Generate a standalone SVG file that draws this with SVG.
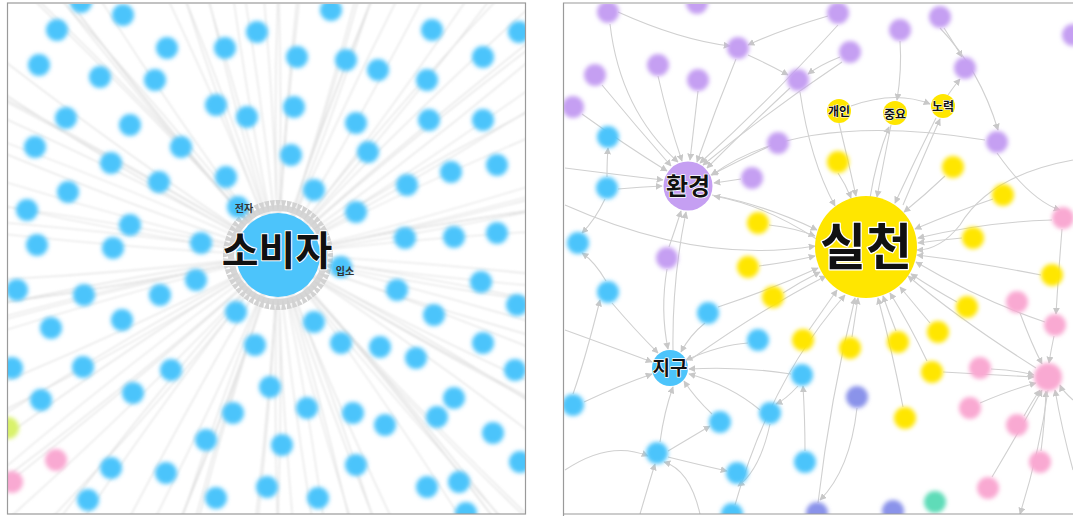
<svg xmlns="http://www.w3.org/2000/svg" xmlns:xlink="http://www.w3.org/1999/xlink" width="1073" height="516" viewBox="0 0 1073 516">
<style>
.ray{fill:none;stroke:#d4d4d4;stroke-width:1.1;opacity:.7}
.e{fill:none;stroke:#d0d0d0;stroke-width:1.1}
.b{fill:#4cc4fb}.y{fill:#ffe600}.p{fill:#c59ff2}.k{fill:#f9a9d2}.i{fill:#8a93ea}.t{fill:#5fdcb8}.g{fill:#d9f26a}
.sm circle{filter:url(#bl)}
.lab{font-family:"Noto Sans CJK KR","Noto Sans",sans-serif;font-weight:bold;fill:#111;text-anchor:middle;paint-order:stroke;stroke:#fff;stroke-linejoin:round}
.frame{fill:none;stroke:#9a9a9a;stroke-width:1.2}
</style>
<defs>
<filter id="bl" x="-50%" y="-50%" width="200%" height="200%"><feGaussianBlur stdDeviation="2"/></filter>
<filter id="eb" x="-10%" y="-10%" width="120%" height="120%"><feGaussianBlur stdDeviation="0.9"/></filter>
<filter id="eb2" x="-10%" y="-10%" width="120%" height="120%"><feGaussianBlur stdDeviation="0.4"/></filter>
<clipPath id="cl"><rect x="8" y="4" width="517" height="510"/></clipPath>
<clipPath id="cr"><rect x="564" y="4" width="509" height="510"/></clipPath>
<marker id="a" viewBox="0 0 10 10" refX="9" refY="5" markerUnits="userSpaceOnUse" markerWidth="7" markerHeight="7" orient="auto"><path d="M0,0L10,5L0,10z" fill="#c8c8c8"/></marker>
<path id="r1" d="M0,0 Q200,-25 420,-30"/>
<path id="r2" d="M0,0 Q200,25 420,30"/>
<path id="r3" d="M0,0 Q220,-8 420,10"/>
<path id="r4" d="M0,0 Q180,45 420,80"/>
<path id="r5" d="M0,0 Q150,70 400,160"/>
<path id="sp" d="M0,-44 L-2.6,-55 L2.6,-55Z"/>
</defs>
<rect width="1073" height="516" fill="#fff"/>

<!-- LEFT PANEL -->
<g clip-path="url(#cl)">
<g id="edges-left" filter="url(#eb)">
<g class="ray" transform="translate(278,255)">
<use href="#r1" transform="rotate(0)"/><use href="#r2" transform="rotate(5)"/><use href="#r3" transform="rotate(10)"/><use href="#r4" transform="rotate(15)"/>
<use href="#r1" transform="rotate(20)"/><use href="#r2" transform="rotate(25)"/><use href="#r3" transform="rotate(30)"/><use href="#r4" transform="rotate(35)"/>
<use href="#r1" transform="rotate(40)"/><use href="#r2" transform="rotate(45)"/><use href="#r3" transform="rotate(50)"/><use href="#r4" transform="rotate(55)"/>
<use href="#r1" transform="rotate(60)"/><use href="#r2" transform="rotate(65)"/><use href="#r3" transform="rotate(70)"/><use href="#r4" transform="rotate(75)"/>
<use href="#r1" transform="rotate(80)"/><use href="#r2" transform="rotate(85)"/><use href="#r3" transform="rotate(90)"/><use href="#r4" transform="rotate(95)"/>
<use href="#r1" transform="rotate(100)"/><use href="#r2" transform="rotate(105)"/><use href="#r3" transform="rotate(110)"/><use href="#r4" transform="rotate(115)"/>
<use href="#r1" transform="rotate(120)"/><use href="#r2" transform="rotate(125)"/><use href="#r3" transform="rotate(130)"/><use href="#r4" transform="rotate(135)"/>
<use href="#r1" transform="rotate(140)"/><use href="#r2" transform="rotate(145)"/><use href="#r3" transform="rotate(150)"/><use href="#r4" transform="rotate(155)"/>
<use href="#r1" transform="rotate(160)"/><use href="#r2" transform="rotate(165)"/><use href="#r3" transform="rotate(170)"/><use href="#r4" transform="rotate(175)"/>
<use href="#r1" transform="rotate(180)"/><use href="#r2" transform="rotate(185)"/><use href="#r3" transform="rotate(190)"/><use href="#r4" transform="rotate(195)"/>
<use href="#r1" transform="rotate(200)"/><use href="#r2" transform="rotate(205)"/><use href="#r3" transform="rotate(210)"/><use href="#r4" transform="rotate(215)"/>
<use href="#r1" transform="rotate(220)"/><use href="#r2" transform="rotate(225)"/><use href="#r3" transform="rotate(230)"/><use href="#r4" transform="rotate(235)"/>
<use href="#r1" transform="rotate(240)"/><use href="#r2" transform="rotate(245)"/><use href="#r3" transform="rotate(250)"/><use href="#r4" transform="rotate(255)"/>
<use href="#r1" transform="rotate(260)"/><use href="#r2" transform="rotate(265)"/><use href="#r3" transform="rotate(270)"/><use href="#r4" transform="rotate(275)"/>
<use href="#r1" transform="rotate(280)"/><use href="#r2" transform="rotate(285)"/><use href="#r3" transform="rotate(290)"/><use href="#r4" transform="rotate(295)"/>
<use href="#r1" transform="rotate(300)"/><use href="#r2" transform="rotate(305)"/><use href="#r3" transform="rotate(310)"/><use href="#r4" transform="rotate(315)"/>
<use href="#r1" transform="rotate(320)"/><use href="#r2" transform="rotate(325)"/><use href="#r3" transform="rotate(330)"/><use href="#r4" transform="rotate(335)"/>
<use href="#r1" transform="rotate(340)"/><use href="#r2" transform="rotate(345)"/><use href="#r3" transform="rotate(350)"/><use href="#r4" transform="rotate(355)"/>
<use href="#r4" transform="rotate(2) scale(1,-1)"/><use href="#r1" transform="rotate(12.5) scale(1,-1)"/><use href="#r4" transform="rotate(32) scale(1,-1)"/><use href="#r3" transform="rotate(47.5) scale(1,-1)"/>
<use href="#r4" transform="rotate(62) scale(1,-1)"/><use href="#r1" transform="rotate(77.5) scale(1,-1)"/><use href="#r4" transform="rotate(92) scale(1,-1)"/><use href="#r3" transform="rotate(107.5) scale(1,-1)"/>
<use href="#r4" transform="rotate(122) scale(1,-1)"/><use href="#r1" transform="rotate(137.5) scale(1,-1)"/><use href="#r4" transform="rotate(152) scale(1,-1)"/><use href="#r3" transform="rotate(167.5) scale(1,-1)"/>
<use href="#r4" transform="rotate(182) scale(1,-1)"/><use href="#r1" transform="rotate(197.5) scale(1,-1)"/><use href="#r4" transform="rotate(212) scale(1,-1)"/><use href="#r3" transform="rotate(227.5) scale(1,-1)"/>
<use href="#r4" transform="rotate(242) scale(1,-1)"/><use href="#r1" transform="rotate(257.5) scale(1,-1)"/><use href="#r4" transform="rotate(272) scale(1,-1)"/><use href="#r3" transform="rotate(287.5) scale(1,-1)"/>
<use href="#r4" transform="rotate(302) scale(1,-1)"/><use href="#r1" transform="rotate(317.5) scale(1,-1)"/><use href="#r4" transform="rotate(332) scale(1,-1)"/><use href="#r3" transform="rotate(347.5) scale(1,-1)"/>
<use href="#r5" transform="rotate(7)"/><use href="#r5" transform="rotate(27) scale(1,-1)"/><use href="#r5" transform="rotate(52)"/><use href="#r5" transform="rotate(72) scale(1,-1)"/>
<use href="#r5" transform="rotate(97)"/><use href="#r5" transform="rotate(117) scale(1,-1)"/><use href="#r5" transform="rotate(142)"/><use href="#r5" transform="rotate(162) scale(1,-1)"/>
<use href="#r5" transform="rotate(187)"/><use href="#r5" transform="rotate(207) scale(1,-1)"/><use href="#r5" transform="rotate(232)"/><use href="#r5" transform="rotate(252) scale(1,-1)"/>
<use href="#r5" transform="rotate(277)"/><use href="#r5" transform="rotate(297) scale(1,-1)"/><use href="#r5" transform="rotate(322)"/><use href="#r5" transform="rotate(342) scale(1,-1)"/>
</g>
</g>
<g id="ring" transform="translate(278,255)" fill="#d2d2d2" filter="url(#eb2)">
<circle r="47" fill="none" stroke="#d6d6d6" stroke-width="6"/>
<use href="#sp" transform="rotate(0)"/><use href="#sp" transform="rotate(6)"/><use href="#sp" transform="rotate(12)"/><use href="#sp" transform="rotate(18)"/><use href="#sp" transform="rotate(24)"/><use href="#sp" transform="rotate(30)"/>
<use href="#sp" transform="rotate(36)"/><use href="#sp" transform="rotate(42)"/><use href="#sp" transform="rotate(48)"/><use href="#sp" transform="rotate(54)"/><use href="#sp" transform="rotate(60)"/><use href="#sp" transform="rotate(66)"/>
<use href="#sp" transform="rotate(72)"/><use href="#sp" transform="rotate(78)"/><use href="#sp" transform="rotate(84)"/><use href="#sp" transform="rotate(90)"/><use href="#sp" transform="rotate(96)"/><use href="#sp" transform="rotate(102)"/>
<use href="#sp" transform="rotate(108)"/><use href="#sp" transform="rotate(114)"/><use href="#sp" transform="rotate(120)"/><use href="#sp" transform="rotate(126)"/><use href="#sp" transform="rotate(132)"/><use href="#sp" transform="rotate(138)"/>
<use href="#sp" transform="rotate(144)"/><use href="#sp" transform="rotate(150)"/><use href="#sp" transform="rotate(156)"/><use href="#sp" transform="rotate(162)"/><use href="#sp" transform="rotate(168)"/><use href="#sp" transform="rotate(174)"/>
<use href="#sp" transform="rotate(180)"/><use href="#sp" transform="rotate(186)"/><use href="#sp" transform="rotate(192)"/><use href="#sp" transform="rotate(198)"/><use href="#sp" transform="rotate(204)"/><use href="#sp" transform="rotate(210)"/>
<use href="#sp" transform="rotate(216)"/><use href="#sp" transform="rotate(222)"/><use href="#sp" transform="rotate(228)"/><use href="#sp" transform="rotate(234)"/><use href="#sp" transform="rotate(240)"/><use href="#sp" transform="rotate(246)"/>
<use href="#sp" transform="rotate(252)"/><use href="#sp" transform="rotate(258)"/><use href="#sp" transform="rotate(264)"/><use href="#sp" transform="rotate(270)"/><use href="#sp" transform="rotate(276)"/><use href="#sp" transform="rotate(282)"/>
<use href="#sp" transform="rotate(288)"/><use href="#sp" transform="rotate(294)"/><use href="#sp" transform="rotate(300)"/><use href="#sp" transform="rotate(306)"/><use href="#sp" transform="rotate(312)"/><use href="#sp" transform="rotate(318)"/>
<use href="#sp" transform="rotate(324)"/><use href="#sp" transform="rotate(330)"/><use href="#sp" transform="rotate(336)"/><use href="#sp" transform="rotate(342)"/><use href="#sp" transform="rotate(348)"/><use href="#sp" transform="rotate(354)"/>
</g>
<g id="nodes-left" class="sm">
<g id="L1"><circle class="b" cx="123" cy="15" r="11"/></g>
<g id="L2"><circle class="b" cx="57" cy="30" r="11"/></g>
<g id="L3"><circle class="b" cx="257" cy="32" r="11"/></g>
<g id="L4"><circle class="b" cx="331" cy="10" r="11"/></g>
<g id="L5"><circle class="b" cx="432" cy="30" r="11"/></g>
<g id="L6"><circle class="b" cx="519" cy="32" r="11"/></g>
<g id="L7"><circle class="b" cx="167" cy="48" r="11"/></g>
<g id="L8"><circle class="b" cx="225" cy="48" r="11"/></g>
<g id="L9"><circle class="b" cx="297" cy="57" r="11"/></g>
<g id="L10"><circle class="b" cx="346" cy="60" r="11"/></g>
<g id="L11"><circle class="b" cx="378" cy="70" r="11"/></g>
<g id="L12"><circle class="b" cx="483" cy="57" r="11"/></g>
<g id="L13"><circle class="b" cx="39" cy="65" r="11"/></g>
<g id="L14"><circle class="b" cx="100" cy="77" r="11"/></g>
<g id="L15"><circle class="b" cx="155" cy="80" r="11"/></g>
<g id="L16"><circle class="b" cx="427" cy="80" r="11"/></g>
<g id="L17"><circle class="b" cx="216" cy="105" r="11"/></g>
<g id="L18"><circle class="b" cx="294" cy="107" r="11"/></g>
<g id="L19"><circle class="b" cx="247" cy="117" r="11"/></g>
<g id="L20"><circle class="b" cx="66" cy="118" r="11"/></g>
<g id="L21"><circle class="b" cx="130" cy="125" r="11"/></g>
<g id="L22"><circle class="b" cx="356" cy="123" r="11"/></g>
<g id="L23"><circle class="b" cx="429" cy="120" r="11"/></g>
<g id="L24"><circle class="b" cx="483" cy="120" r="11"/></g>
<g id="L25"><circle class="b" cx="35" cy="147" r="11"/></g>
<g id="L26"><circle class="b" cx="181" cy="147" r="11"/></g>
<g id="L27"><circle class="b" cx="368" cy="152" r="11"/></g>
<g id="L28"><circle class="b" cx="291" cy="155" r="11"/></g>
<g id="L29"><circle class="b" cx="111" cy="163" r="11"/></g>
<g id="L30"><circle class="b" cx="451" cy="172" r="11"/></g>
<g id="L31"><circle class="b" cx="497" cy="165" r="11"/></g>
<g id="L32"><circle class="b" cx="159" cy="182" r="11"/></g>
<g id="L33"><circle class="b" cx="226" cy="177" r="11"/></g>
<g id="L34"><circle class="b" cx="314" cy="190" r="11"/></g>
<g id="L35"><circle class="b" cx="68" cy="192" r="11"/></g>
<g id="L36"><circle class="b" cx="407" cy="185" r="11"/></g>
<g id="L37"><circle class="b" cx="27" cy="210" r="11"/></g>
<g id="L38"><circle class="b" cx="238" cy="207" r="11"/></g>
<g id="L39"><circle class="b" cx="356" cy="212" r="11"/></g>
<g id="L40"><circle class="b" cx="130" cy="225" r="11"/></g>
<g id="L41"><circle class="b" cx="201" cy="243" r="11"/></g>
<g id="L42"><circle class="b" cx="37" cy="245" r="11"/></g>
<g id="L43"><circle class="b" cx="113" cy="248" r="11"/></g>
<g id="L44"><circle class="b" cx="405" cy="238" r="11"/></g>
<g id="L45"><circle class="b" cx="454" cy="237" r="11"/></g>
<g id="L46"><circle class="b" cx="497" cy="233" r="11"/></g>
<g id="L47"><circle class="b" cx="341" cy="267" r="11"/></g>
<g id="L48"><circle class="b" cx="196" cy="280" r="11"/></g>
<g id="L49"><circle class="b" cx="17" cy="290" r="11"/></g>
<g id="L50"><circle class="b" cx="84" cy="295" r="11"/></g>
<g id="L51"><circle class="b" cx="160" cy="295" r="11"/></g>
<g id="L52"><circle class="b" cx="397" cy="290" r="11"/></g>
<g id="L53"><circle class="b" cx="481" cy="282" r="11"/></g>
<g id="L54"><circle class="b" cx="236" cy="312" r="11"/></g>
<g id="L55"><circle class="b" cx="51" cy="328" r="11"/></g>
<g id="L56"><circle class="b" cx="122" cy="320" r="11"/></g>
<g id="L57"><circle class="b" cx="314" cy="322" r="11"/></g>
<g id="L58"><circle class="b" cx="434" cy="315" r="11"/></g>
<g id="L59"><circle class="b" cx="517" cy="305" r="11"/></g>
<g id="L60"><circle class="b" cx="255" cy="345" r="11"/></g>
<g id="L61"><circle class="b" cx="341" cy="343" r="11"/></g>
<g id="L62"><circle class="b" cx="380" cy="347" r="11"/></g>
<g id="L63"><circle class="b" cx="416" cy="358" r="11"/></g>
<g id="L64"><circle class="b" cx="483" cy="343" r="11"/></g>
<g id="L65"><circle class="b" cx="12" cy="368" r="11"/></g>
<g id="L66"><circle class="b" cx="83" cy="367" r="11"/></g>
<g id="L67"><circle class="b" cx="171" cy="370" r="11"/></g>
<g id="L68"><circle class="b" cx="270" cy="387" r="11"/></g>
<g id="L69"><circle class="b" cx="515" cy="370" r="11"/></g>
<g id="L70"><circle class="b" cx="41" cy="400" r="11"/></g>
<g id="L71"><circle class="b" cx="133" cy="393" r="11"/></g>
<g id="L72"><circle class="b" cx="454" cy="398" r="11"/></g>
<g id="L73"><circle class="b" cx="307" cy="408" r="11"/></g>
<g id="L74"><circle class="b" cx="353" cy="413" r="11"/></g>
<g id="L75"><circle class="b" cx="233" cy="413" r="11"/></g>
<g id="L76"><circle class="b" cx="385" cy="425" r="11"/></g>
<g id="L77"><circle class="b" cx="437" cy="417" r="11"/></g>
<g id="L78"><circle class="b" cx="493" cy="433" r="11"/></g>
<g id="L79"><circle class="b" cx="206" cy="440" r="11"/></g>
<g id="L80"><circle class="b" cx="282" cy="445" r="11"/></g>
<g id="L81"><circle class="g" cx="8" cy="428" r="11"/></g>
<g id="L82"><circle class="k" cx="56" cy="460" r="11"/></g>
<g id="L83"><circle class="k" cx="12" cy="482" r="11"/></g>
<g id="L84"><circle class="b" cx="111" cy="468" r="11"/></g>
<g id="L85"><circle class="b" cx="166" cy="473" r="11"/></g>
<g id="L86"><circle class="b" cx="356" cy="465" r="11"/></g>
<g id="L87"><circle class="b" cx="459" cy="482" r="11"/></g>
<g id="L88"><circle class="b" cx="427" cy="487" r="11"/></g>
<g id="L89"><circle class="b" cx="520" cy="462" r="11"/></g>
<g id="L90"><circle class="b" cx="88" cy="500" r="11"/></g>
<g id="L91"><circle class="b" cx="216" cy="498" r="11"/></g>
<g id="L92"><circle class="b" cx="267" cy="487" r="11"/></g>
<g id="L93"><circle class="b" cx="318" cy="498" r="11"/></g>
<g id="L94"><circle class="b" cx="466" cy="513" r="11"/></g>
<g id="L95"><circle class="b" cx="81" cy="2" r="11"/></g>
</g>
<g id="small-labels-left" class="lab" style="font-size:10px;stroke-width:0;fill:#333">
<text x="244" y="212">전자</text>
<text x="345" y="275">입소</text>
</g>
<g id="n-sobija">
<circle class="b" cx="278" cy="255" r="42"/>
<text class="lab" x="277" y="265" style="font-size:40px;stroke-width:2">소비자</text>
</g>
</g>
<rect class="frame" x="7.5" y="3" width="518" height="511"/>

<!-- RIGHT PANEL -->
<g clip-path="url(#cr)">
<g id="edges-right" class="e" marker-end="url(#a)" filter="url(#eb2)">
<path d="M839,123 Q848,160 856,196"/>
<path d="M838,173 Q846,185 851,198"/>
<path d="M945,176 Q925,195 904,212"/>
<path d="M993,199 Q955,212 915,229"/>
<path d="M769,225 Q795,228 815,236"/>
<path d="M962,238 Q940,240 918,243"/>
<path d="M759,266 Q790,262 815,256"/>
<path d="M1041,275 Q975,262 917,255"/>
<path d="M783,293 Q800,282 820,272"/>
<path d="M957,302 Q935,290 911,274"/>
<path d="M930,323 Q915,305 900,287"/>
<path d="M809,330 Q823,310 837,290"/>
<path d="M852,337 Q855,318 858,298"/>
<path d="M896,331 Q889,313 883,296"/>
<path d="M927,361 Q910,325 890,293"/>
<path d="M903,407 Q892,350 878,298"/>
<path d="M712,195 Q765,205 817,230"/>
<path d="M891,125 Q884,160 877,197"/>
<path d="M870,198 Q876,160 889,127"/>
<path d="M936,118 Q915,160 895,203"/>
<path d="M903,205 Q922,160 940,119"/>
<path d="M1036,368 Q960,320 908,276"/>
<path d="M565,205 Q700,265 815,246"/>
<path d="M818,503 Q830,400 855,298"/>
<path d="M735,505 Q770,380 845,295"/>
<path d="M1052,220 Q985,222 918,238"/>
<path d="M690,360 Q760,310 826,276"/>
<path d="M718,307 Q770,290 818,268"/>
<path d="M800,92 Q810,160 835,206"/>
<path d="M1045,322 Q980,300 916,262"/>
<path d="M1073,160 Q990,175 960,225 Q940,250 917,250"/>
<path d="M658,76 Q668,120 682,161"/>
<path d="M698,91 Q694,125 690,160"/>
<path d="M736,59 Q715,110 697,162"/>
<path d="M790,88 Q745,130 707,168"/>
<path d="M602,85 Q635,125 671,166"/>
<path d="M610,24 Q620,110 678,162"/>
<path d="M768,147 Q740,160 711,175"/>
<path d="M741,179 Q728,181 714,183"/>
<path d="M582,114 Q625,145 667,171"/>
<path d="M618,189 Q640,187 662,186"/>
<path d="M669,247 Q675,230 681,211"/>
<path d="M673,350 Q672,280 686,212"/>
<path d="M838,25 Q770,100 700,163"/>
<path d="M842,62 Q770,110 703,165"/>
<path d="M818,240 Q765,205 714,196"/>
<path d="M565,168 Q620,175 663,180"/>
<path d="M985,140 Q800,110 712,175"/>
<path d="M705,323 Q690,335 681,352"/>
<path d="M712,414 Q695,398 684,381"/>
<path d="M660,442 Q664,412 673,387"/>
<path d="M667,269 Q660,310 668,349"/>
<path d="M791,374 Q740,366 689,369"/>
<path d="M584,402 Q620,385 652,374"/>
<path d="M612,303 Q635,330 658,353"/>
<path d="M748,343 Q720,345 686,360"/>
<path d="M565,330 Q620,350 652,362"/>
<path d="M760,410 Q730,385 689,374"/>
<path d="M851,106 Q895,90 930,104"/>
<path d="M948,95 Q955,85 960,79"/>
<path d="M944,28 Q955,45 962,57"/>
<path d="M900,41 Q902,70 897,100"/>
<path d="M828,16 Q780,30 748,45"/>
<path d="M840,57 Q820,65 808,74"/>
<path d="M748,55 Q770,65 788,75"/>
<path d="M607,177 Q607,160 608,148"/>
<path d="M605,199 Q595,220 582,233"/>
<path d="M606,281 Q595,262 582,253"/>
<path d="M668,451 Q695,435 710,426"/>
<path d="M668,457 Q700,465 727,471"/>
<path d="M798,386 Q785,400 776,404"/>
<path d="M805,451 Q805,420 803,386"/>
<path d="M991,369 Q1015,370 1034,375"/>
<path d="M980,403 Q1010,390 1036,383"/>
<path d="M1024,416 Q1033,400 1040,390"/>
<path d="M1041,451 Q1045,420 1046,391"/>
<path d="M1020,313 Q1032,345 1042,364"/>
<path d="M1054,336 Q1051,350 1049,363"/>
<path d="M992,477 Q1020,430 1042,390"/>
<path d="M1062,229 Q1058,280 1056,314"/>
<path d="M943,372 Q1000,375 1034,377"/>
<path d="M857,408 Q850,470 820,500"/>
<path d="M997,153 Q1030,200 1060,210"/>
<path d="M940,28 Q980,70 998,130"/>
<path d="M1073,400 Q1062,390 1060,385"/>
<path d="M1073,470 Q1062,430 1055,390"/>
<path d="M1048,390 Q1040,450 1020,514"/>
<path d="M565,470 Q610,440 648,456"/>
<path d="M640,514 Q650,480 655,464"/>
<path d="M700,514 Q690,470 664,462"/>
<path d="M573,394 Q585,360 600,300"/>
<path d="M770,424 Q760,470 738,486"/>
<path d="M618,12 Q680,40 730,46"/>
</g>
<g id="nodes-right" class="sm">
<g id="R1"><circle class="p" cx="608" cy="12" r="11"/></g>
<g id="R2"><circle class="p" cx="697" cy="3" r="11"/></g>
<g id="R3"><circle class="p" cx="838" cy="13" r="11"/></g>
<g id="R4"><circle class="p" cx="940" cy="17" r="11"/></g>
<g id="R5"><circle class="p" cx="900" cy="30" r="11"/></g>
<g id="R6"><circle class="p" cx="738" cy="48" r="11"/></g>
<g id="R7"><circle class="p" cx="850" cy="52" r="11"/></g>
<g id="R8"><circle class="p" cx="658" cy="65" r="11"/></g>
<g id="R9"><circle class="p" cx="595" cy="75" r="11"/></g>
<g id="R10"><circle class="p" cx="698" cy="80" r="11"/></g>
<g id="R11"><circle class="p" cx="798" cy="80" r="11"/></g>
<g id="R12"><circle class="p" cx="965" cy="68" r="11"/></g>
<g id="R13"><circle class="p" cx="573" cy="107" r="11"/></g>
<g id="R14"><circle class="p" cx="778" cy="143" r="11"/></g>
<g id="R15"><circle class="p" cx="997" cy="142" r="11"/></g>
<g id="R16"><circle class="p" cx="752" cy="178" r="11"/></g>
<g id="R17"><circle class="p" cx="667" cy="258" r="11"/></g>
<g id="R18"><circle class="b" cx="608" cy="137" r="11"/></g>
<g id="R19"><circle class="b" cx="607" cy="188" r="11"/></g>
<g id="R20"><circle class="b" cx="578" cy="243" r="11"/></g>
<g id="R21"><circle class="b" cx="608" cy="292" r="11"/></g>
<g id="R22"><circle class="b" cx="708" cy="313" r="11"/></g>
<g id="R23"><circle class="b" cx="758" cy="340" r="11"/></g>
<g id="R24"><circle class="b" cx="802" cy="375" r="11"/></g>
<g id="R25"><circle class="b" cx="573" cy="405" r="11"/></g>
<g id="R26"><circle class="b" cx="770" cy="413" r="11"/></g>
<g id="R27"><circle class="b" cx="720" cy="422" r="11"/></g>
<g id="R28"><circle class="b" cx="657" cy="453" r="11"/></g>
<g id="R29"><circle class="b" cx="805" cy="462" r="11"/></g>
<g id="R30"><circle class="b" cx="737" cy="473" r="11"/></g>
<g id="R31"><circle class="b" cx="732" cy="514" r="11"/></g>
<g id="R32"><circle class="y" cx="838" cy="162" r="11"/></g>
<g id="R33"><circle class="y" cx="953" cy="167" r="11"/></g>
<g id="R34"><circle class="y" cx="1003" cy="195" r="11"/></g>
<g id="R35"><circle class="y" cx="758" cy="223" r="11"/></g>
<g id="R36"><circle class="y" cx="973" cy="238" r="11"/></g>
<g id="R37"><circle class="y" cx="748" cy="267" r="11"/></g>
<g id="R38"><circle class="y" cx="1052" cy="275" r="11"/></g>
<g id="R39"><circle class="y" cx="773" cy="297" r="11"/></g>
<g id="R40"><circle class="y" cx="967" cy="307" r="11"/></g>
<g id="R41"><circle class="y" cx="938" cy="332" r="11"/></g>
<g id="R42"><circle class="y" cx="803" cy="340" r="11"/></g>
<g id="R43"><circle class="y" cx="850" cy="348" r="11"/></g>
<g id="R44"><circle class="y" cx="898" cy="342" r="11"/></g>
<g id="R45"><circle class="y" cx="932" cy="372" r="11"/></g>
<g id="R46"><circle class="y" cx="905" cy="418" r="11"/></g>
<g id="R47"><circle class="k" cx="1063" cy="218" r="11"/></g>
<g id="R48"><circle class="k" cx="1017" cy="302" r="11"/></g>
<g id="R49"><circle class="k" cx="1055" cy="325" r="11"/></g>
<g id="R50"><circle class="k" cx="980" cy="368" r="11"/></g>
<g id="R51"><circle class="k" cx="1048" cy="377" r="14"/></g>
<g id="R52"><circle class="k" cx="970" cy="408" r="11"/></g>
<g id="R53"><circle class="k" cx="1017" cy="425" r="11"/></g>
<g id="R54"><circle class="k" cx="1040" cy="462" r="11"/></g>
<g id="R55"><circle class="k" cx="988" cy="488" r="11"/></g>
<g id="R56"><circle class="i" cx="857" cy="397" r="11"/></g>
<g id="R57"><circle class="i" cx="817" cy="513" r="11"/></g>
<g id="R58"><circle class="i" cx="893" cy="511" r="11"/></g>
<g id="R59"><circle class="t" cx="935" cy="502" r="11"/></g>
<g id="R60"><circle class="p" cx="1073" cy="35" r="11"/></g>
</g>
<g id="n-gaein"><circle class="y" cx="839" cy="111" r="12"/><text class="lab" x="839" y="116" style="font-size:12px;stroke-width:1">개인</text></g>
<g id="n-jungyo"><circle class="y" cx="895" cy="113" r="12"/><text class="lab" x="895" y="118.5" style="font-size:12px;stroke-width:1">중요</text></g>
<g id="n-noryeok"><circle class="y" cx="943" cy="106" r="12"/><text class="lab" x="943" y="111" style="font-size:12px;stroke-width:1">노력</text></g>
<g id="n-hwangyeong"><circle class="p" cx="688" cy="186" r="24.5"/><text class="lab" x="688" y="195" style="font-size:24px;stroke-width:1.5">환경</text></g>
<g id="n-jigu"><circle class="b" cx="670" cy="368" r="18"/><text class="lab" x="670" y="375" style="font-size:19px;stroke-width:1.5">지구</text></g>
<g id="n-silcheon"><circle class="y" cx="866" cy="247" r="51"/><text class="lab" x="866" y="265" style="font-size:50px;stroke-width:2.5">실천</text></g>
</g>
<path class="frame" d="M563.5,516 V3 H1074 M563,514 H1074"/>
</svg>
